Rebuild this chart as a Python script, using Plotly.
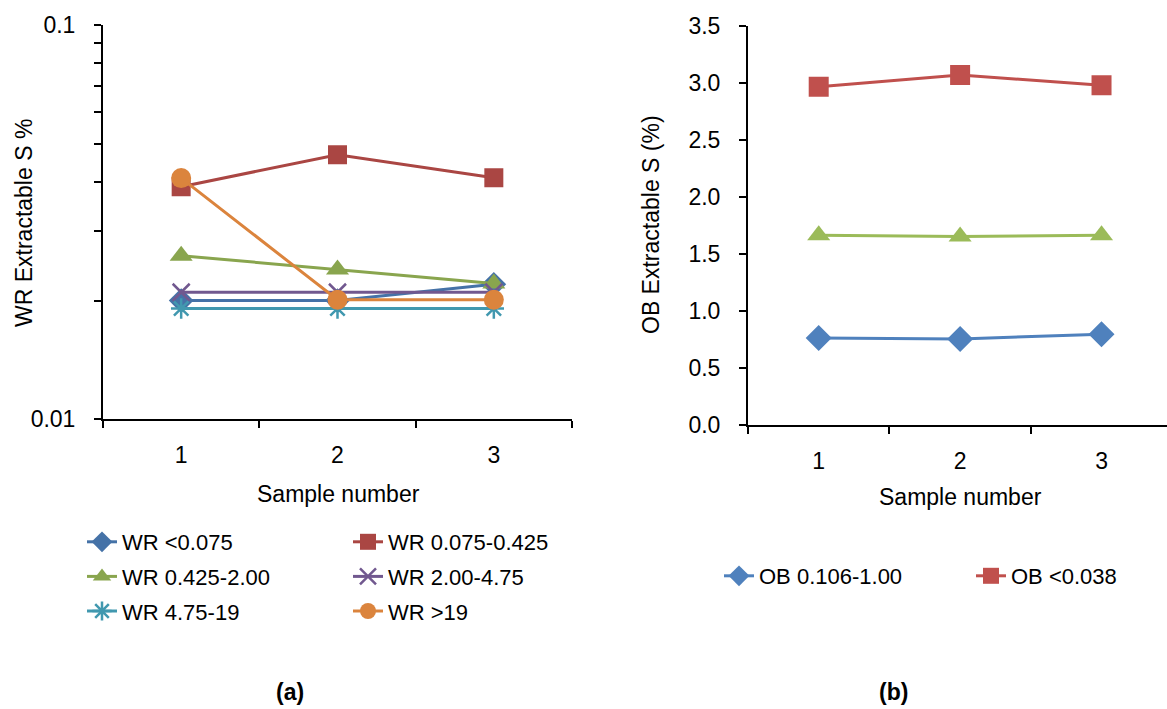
import plotly.graph_objects as go

FONT = "Liberation Sans, Arial, sans-serif"

# ---------------- data ----------------
samples = ["1", "2", "3"]

wr_lt_0075 = [0.020, 0.020, 0.022]
wr_0075_0425 = [0.0389, 0.0469, 0.0410]
wr_0425_200 = [0.0260, 0.0240, 0.0221]
wr_200_475 = [0.0210, 0.0210, 0.0210]
wr_475_19 = [0.0191, 0.0191, 0.0191]
wr_gt_19 = [0.0409, 0.0201, 0.0201]

ob_0106_100 = [0.766, 0.757, 0.798]
ob_lt_0038 = [2.968, 3.070, 2.980]
ob_green = [1.665, 1.655, 1.665]

wr_tickvals = [0.01, 0.02, 0.03, 0.04, 0.05, 0.06, 0.07, 0.08, 0.09, 0.1]
wr_ticktext = ["0.01", "", "", "", "", "", "", "", "", "0.1"]
ob_tickvals = [0.0, 0.5, 1.0, 1.5, 2.0, 2.5, 3.0, 3.5]
ob_ticktext = ["0.0", "0.5", "1.0", "1.5", "2.0", "2.5", "3.0", "3.5"]

fig = go.Figure()

def add(x, y, name, color, symbol, size, xa, ya, legend, showlegend=True, mline=None):
    marker = dict(symbol=symbol, size=size, color=color)
    if mline is not None:
        marker["line"] = dict(color=color, width=mline)
    fig.add_trace(go.Scatter(
        x=x, y=y, name=name, mode="lines+markers",
        line=dict(color=color, width=3), marker=marker,
        xaxis=xa, yaxis=ya, legend=legend, showlegend=showlegend,
        legendgroup=name,
    ))

# left panel (a)
add(samples, wr_lt_0075, "WR <0.075", "#4572A7", "diamond", 19, "x", "y", "legend")
add(samples, wr_0075_0425, "WR 0.075-0.425", "#AA4643", "square", 19, "x", "y", "legend2")
add(samples, wr_0425_200, "WR 0.425-2.00", "#89A54E", "triangle-up", 20, "x", "y", "legend")
add(samples, wr_200_475, "WR 2.00-4.75", "#71588F", "x-thin-open", 17, "x", "y", "legend2", mline=2.5)
add(samples, wr_475_19, "WR 4.75-19", "#4198AF", "asterisk-open", 17, "x", "y", "legend", mline=2.5)
add(samples, wr_gt_19, "WR >19", "#DB843D", "circle", 20, "x", "y", "legend2")

# right panel (b)
add(samples, ob_0106_100, "OB 0.106-1.00", "#4F81BD", "diamond", 20, "x2", "y2", "legend3")
add(samples, ob_lt_0038, "OB <0.038", "#C0504D", "square", 20, "x2", "y2", "legend4")
add(samples, ob_green, "OB other", "#9BBB59", "triangle-up", 20, "x2", "y2", "legend3", showlegend=False)

W, H = 1167, 709
axis_common = dict(
    showline=True, linecolor="black", linewidth=2, ticks="outside",
    ticklen=7, tickwidth=2, tickcolor="black", showgrid=False, zeroline=False,
    tickfont=dict(family=FONT, size=23, color="black"),
)

def legend_at(xpx, ypx):
    return dict(
        x=xpx / W, y=1 - ypx / H, xanchor="left", yanchor="top",
        orientation="v", bgcolor="rgba(0,0,0,0)", tracegroupgap=3,
        font=dict(family=FONT, size=22, color="black"),
    )

fig.update_layout(
    width=W, height=H,
    margin=dict(l=0, r=0, t=0, b=0, autoexpand=False),
    paper_bgcolor="white", plot_bgcolor="white",
    font=dict(family=FONT, size=23, color="black"),
    xaxis=dict(domain=[103 / W, 572 / W], type="category", range=[-0.5, 2.5],
               tickson="boundaries", anchor="y", ticklabelstandoff=14, **axis_common),
    yaxis=dict(domain=[1 - 419.3 / H, 1 - 25 / H], type="log", range=[-2, -1],
               tickvals=wr_tickvals, ticktext=wr_ticktext, anchor="x",
               ticklabelstandoff=14, **axis_common),
    xaxis2=dict(domain=[748 / W, 1.0], type="category", range=[-0.5, 2.463],
                tickson="boundaries", anchor="y2", ticklabelstandoff=14, **axis_common),
    yaxis2=dict(domain=[1 - 425.3 / H, 1 - 26 / H], range=[0, 3.5],
                tickvals=ob_tickvals, ticktext=ob_ticktext, anchor="x2",
                ticklabelstandoff=14, **axis_common),
    legend=legend_at(82, 521),
    legend2=legend_at(348, 521),
    legend3=legend_at(719, 555),
    legend4=legend_at(971, 555),
    showlegend=True,
)

ann_font = dict(family=FONT, size=23, color="black")
fig.add_annotation(x=338 / W, y=1 - 494 / H, xref="paper", yref="paper", text="Sample number",
                   showarrow=False, font=ann_font, xanchor="center", yanchor="middle")
fig.add_annotation(x=960 / W, y=1 - 497 / H, xref="paper", yref="paper", text="Sample number",
                   showarrow=False, font=ann_font, xanchor="center", yanchor="middle")
fig.add_annotation(x=24 / W, y=1 - 223 / H, xref="paper", yref="paper", text="WR Extractable S %",
                   showarrow=False, font=ann_font, textangle=-90, xanchor="center", yanchor="middle")
fig.add_annotation(x=651 / W, y=1 - 225 / H, xref="paper", yref="paper", text="OB Extractable S (%)",
                   showarrow=False, font=ann_font, textangle=-90, xanchor="center", yanchor="middle")
fig.add_annotation(x=290 / W, y=1 - 692 / H, xref="paper", yref="paper", text="<b>(a)</b>",
                   showarrow=False, font=dict(family=FONT, size=23, color="black"),
                   xanchor="center", yanchor="middle")
fig.add_annotation(x=893 / W, y=1 - 692 / H, xref="paper", yref="paper", text="<b>(b)</b>",
                   showarrow=False, font=dict(family=FONT, size=23, color="black"),
                   xanchor="center", yanchor="middle")

fig.write_html("out.html")
